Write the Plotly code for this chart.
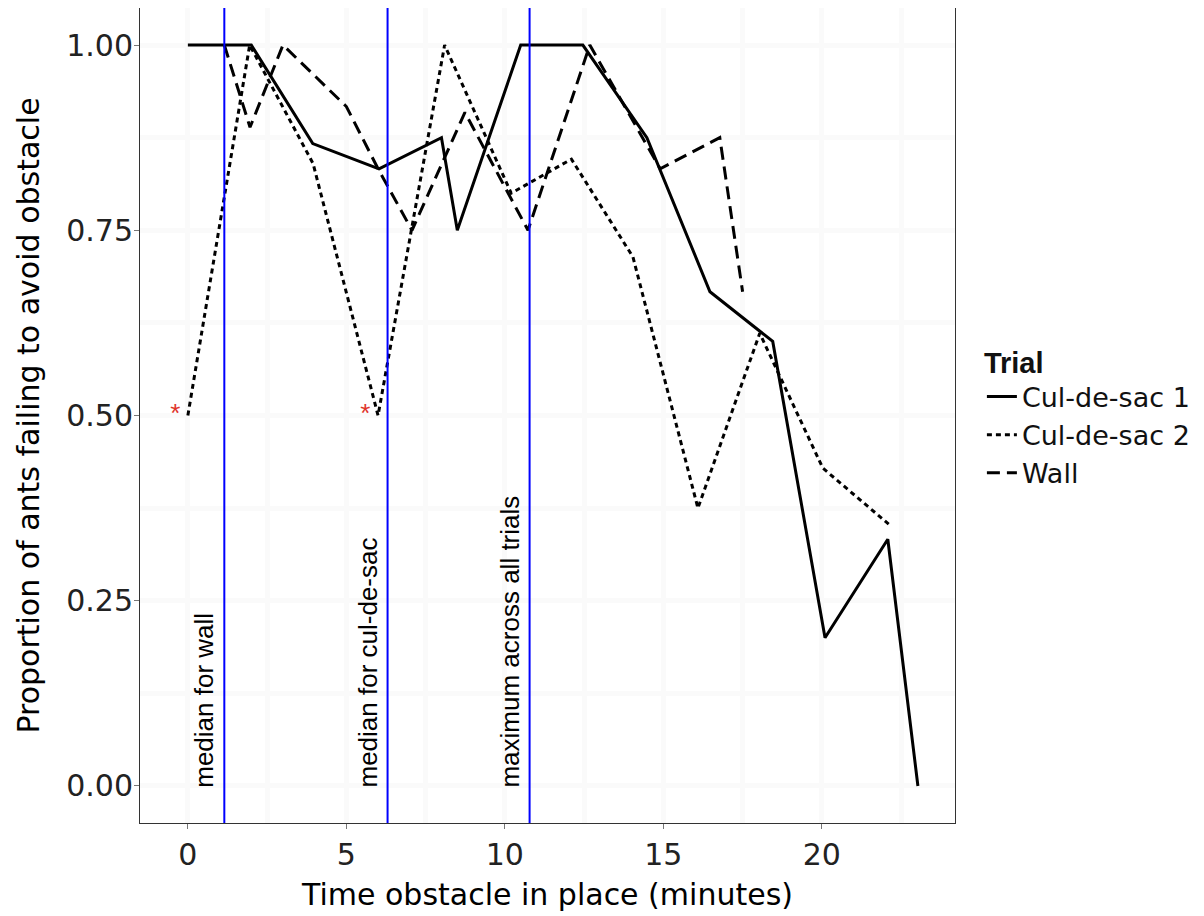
import plotly.graph_objects as go

# ---- data ----
cds1_x = [0, 2.0, 3.94, 6.03, 8.0, 8.5, 10.5, 12.46, 14.48, 16.47, 18.45, 20.1, 22.08, 23.03]
cds1_y = [1.0, 1.0, 0.867, 0.833, 0.875, 0.75, 1.0, 1.0, 0.875, 0.667, 0.6, 0.2, 0.333, 0.0]

cds2_x = [0, 1.95, 3.95, 6.0, 8.1, 10.2, 12.1, 14.04, 16.09, 18.04, 20.03, 22.2]
cds2_y = [0.5, 1.0, 0.84, 0.5, 1.0, 0.8, 0.846, 0.714, 0.375, 0.611, 0.429, 0.35]

wall_x = [1.15, 1.96, 3.0, 5.0, 6.0, 7.07, 8.74, 10.73, 12.68, 14.9, 16.78, 17.5]
wall_y = [1.0, 0.889, 1.0, 0.917, 0.833, 0.75, 0.909, 0.75, 1.0, 0.833, 0.875, 0.667]

star_x = [-0.4, 5.6]
star_y = [0.5, 0.5]

vline_x = [1.15, 6.3, 10.78]
vline_labels = ["median for wall", "median for cul-de-sac", "maximum across all trials"]

x_ticks = [0, 5, 10, 15, 20]
y_ticks = [0.0, 0.25, 0.5, 0.75, 1.0]
y_ticktext = ["0.00", "0.25", "0.50", "0.75", "1.00"]

SANS = "Liberation Sans, Arial, Helvetica, sans-serif"
WIDE = "DejaVu Sans, Verdana, sans-serif"

fig = go.Figure()

fig.add_trace(go.Scatter(x=cds1_x, y=cds1_y, mode="lines", name="Cul-de-sac 1",
                         line=dict(color="black", width=3, dash="solid")))
fig.add_trace(go.Scatter(x=cds2_x, y=cds2_y, mode="lines", name="Cul-de-sac 2",
                         line=dict(color="black", width=3, dash="5px,4px")))
fig.add_trace(go.Scatter(x=wall_x, y=wall_y, mode="lines", name="Wall",
                         line=dict(color="black", width=3, dash="13px,7px")))

fig.add_trace(go.Scatter(x=star_x, y=star_y, mode="text", text=["*"] * len(star_x),
                         textposition="middle center",
                         textfont=dict(color="#e0352b", size=26, family=SANS),
                         showlegend=False, hoverinfo="skip"))

for vx, lab in zip(vline_x, vline_labels):
    fig.add_shape(type="line", xref="x", yref="paper", x0=vx, x1=vx, y0=0, y1=1,
                  line=dict(color="#0000ff", width=2), layer="above")
    fig.add_annotation(x=vx, y=0, xref="x", yref="y", text=lab, textangle=-90,
                       showarrow=False, xanchor="right", yanchor="bottom",
                       xshift=-3, yshift=-4,
                       font=dict(size=26, color="black", family=SANS))

axis_common = dict(
    showline=True, linecolor="#333333", linewidth=1, mirror=True,
    ticks="outside", ticklen=5, tickcolor="#777777", tickwidth=1,
    showgrid=False, zeroline=False,
    tickfont=dict(size=30, color="#222222", family=WIDE),
)

# page body adds an 8px offset; size/margins compensate so the panel sits at 140..955 x 8..823
fig.update_layout(
    width=1196, height=908,
    margin=dict(l=132, r=249, t=0, b=93),
    paper_bgcolor="white", plot_bgcolor="white",
    font=dict(family=SANS, color="black"),
    showlegend=True,
    legend=dict(
        title=dict(text="<b>Trial</b>", font=dict(size=29, family=SANS)),
        font=dict(size=27, family=WIDE, color="#111111"),
        x=1.033, xanchor="left", y=0.599, yanchor="top",
        bgcolor="rgba(0,0,0,0)", tracegroupgap=0,
    ),
    xaxis=dict(
        range=[-1.51, 24.2], tickvals=x_ticks,
        title=dict(text="Time obstacle in place (minutes)", font=dict(size=30, family=WIDE), standoff=12),
        minor=dict(dtick=2.5, tick0=2.5, showgrid=True, gridcolor="#fafafa", gridwidth=5),
        **axis_common,
    ),
    yaxis=dict(
        range=[-0.05, 1.05], tickvals=y_ticks, ticktext=y_ticktext,
        ticklabelstandoff=-5,
        title=dict(text="Proportion of ants failing to avoid obstacle", font=dict(size=30, family=WIDE), standoff=17),
        minor=dict(dtick=0.125, tick0=0.125, showgrid=True, gridcolor="#fafafa", gridwidth=5),
        **axis_common,
    ),
)

fig.write_html("out.html")
